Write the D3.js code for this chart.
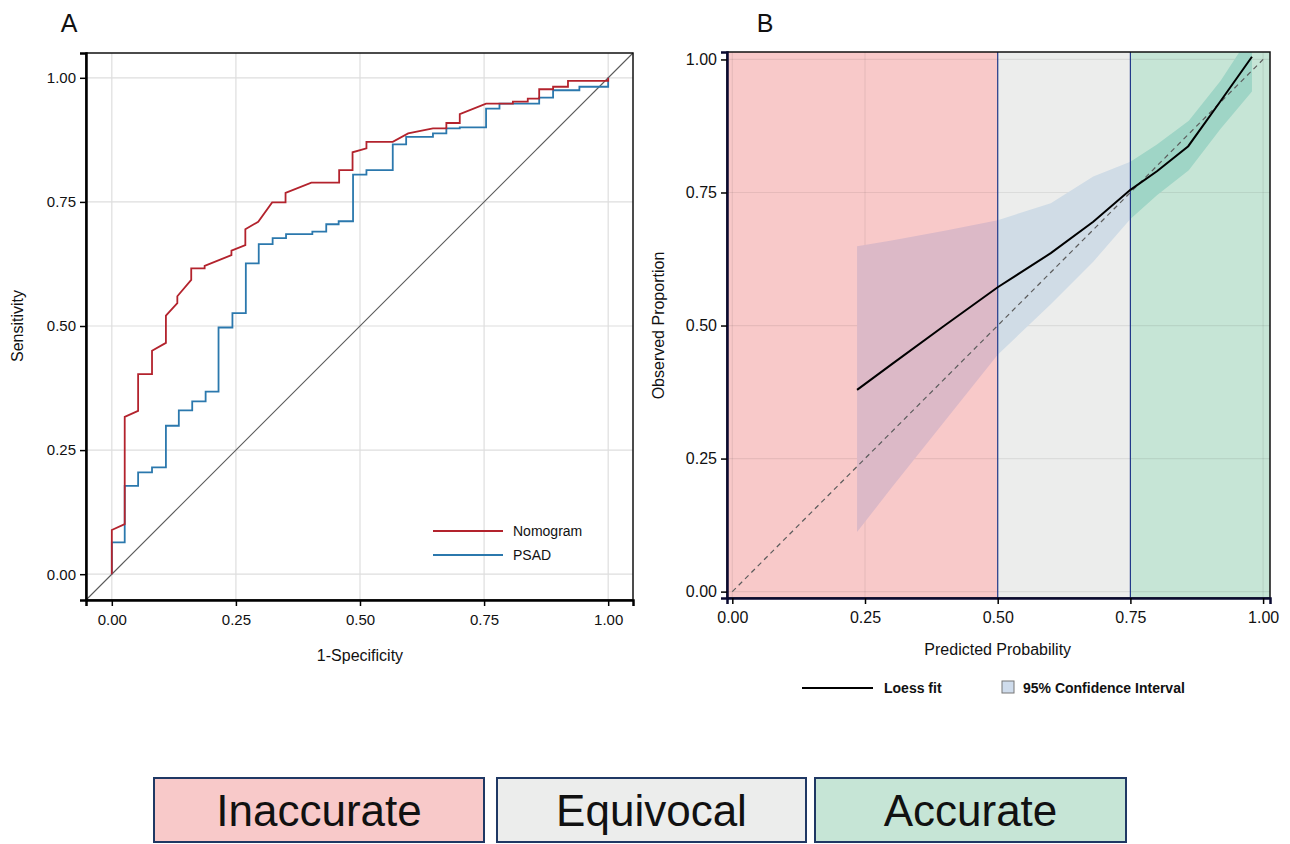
<!DOCTYPE html>
<html>
<head>
<meta charset="utf-8">
<script src="https://cdn.jsdelivr.net/npm/d3@7/dist/d3.min.js"></script>
<style>
  html, body { margin: 0; padding: 0; background: #fff; }
  svg { display: block; }
  text { font-family: "Liberation Sans", Arial, sans-serif; fill: #111; }
</style>
</head>
<body>
<svg id="chart" width="1290" height="844"></svg>
<script>
// ---------------- DATA ----------------
const tickValues = [0, 0.25, 0.5, 0.75, 1];
const tickLabels = ["0.00", "0.25", "0.50", "0.75", "1.00"];

// Panel A: ROC curves (1-Specificity, Sensitivity)
const nomogramFPR = [0, 0, 0.026, 0.026, 0.053, 0.053, 0.081, 0.081, 0.109, 0.109, 0.132, 0.132, 0.160, 0.160, 0.187, 0.187, 0.241, 0.241, 0.269, 0.269, 0.295, 0.323, 0.350, 0.350, 0.402, 0.458, 0.458, 0.485, 0.485, 0.513, 0.513, 0.566, 0.597, 0.647, 0.674, 0.674, 0.701, 0.701, 0.754, 0.808, 0.808, 0.838, 0.838, 0.861, 0.861, 0.889, 0.889, 0.919, 0.919, 1.0, 1.0];
const nomogramTPR = [0, 0.089, 0.101, 0.317, 0.329, 0.403, 0.403, 0.450, 0.466, 0.521, 0.546, 0.560, 0.593, 0.616, 0.616, 0.621, 0.643, 0.652, 0.663, 0.695, 0.710, 0.749, 0.749, 0.768, 0.789, 0.789, 0.814, 0.814, 0.850, 0.858, 0.871, 0.871, 0.888, 0.898, 0.898, 0.909, 0.909, 0.927, 0.948, 0.948, 0.952, 0.952, 0.958, 0.958, 0.977, 0.977, 0.982, 0.982, 0.994, 0.994, 1.0];

const psadFPR = [0, 0, 0.026, 0.026, 0.053, 0.053, 0.081, 0.081, 0.109, 0.109, 0.135, 0.135, 0.162, 0.162, 0.189, 0.189, 0.215, 0.215, 0.243, 0.243, 0.270, 0.270, 0.296, 0.296, 0.324, 0.324, 0.351, 0.351, 0.404, 0.404, 0.432, 0.432, 0.457, 0.457, 0.486, 0.486, 0.513, 0.513, 0.566, 0.566, 0.593, 0.593, 0.647, 0.647, 0.674, 0.674, 0.701, 0.701, 0.754, 0.754, 0.781, 0.781, 0.861, 0.861, 0.889, 0.889, 0.942, 0.942, 1.0, 1.0];
const psadTPR = [0, 0.064, 0.064, 0.178, 0.178, 0.205, 0.205, 0.215, 0.215, 0.299, 0.299, 0.330, 0.330, 0.348, 0.348, 0.368, 0.368, 0.497, 0.497, 0.526, 0.526, 0.626, 0.626, 0.665, 0.665, 0.677, 0.677, 0.685, 0.685, 0.690, 0.690, 0.705, 0.705, 0.711, 0.711, 0.805, 0.805, 0.814, 0.814, 0.866, 0.866, 0.881, 0.881, 0.888, 0.888, 0.898, 0.898, 0.900, 0.900, 0.938, 0.938, 0.948, 0.948, 0.960, 0.960, 0.975, 0.975, 0.982, 0.982, 1.0];

const rocSeries = ["Nomogram", "PSAD"];

// Panel B: calibration curve
const loessX = [0.235, 0.30, 0.40, 0.50, 0.60, 0.68, 0.75, 0.80, 0.859, 0.92, 0.979];
const loessY = [0.379, 0.427, 0.500, 0.572, 0.636, 0.695, 0.755, 0.790, 0.837, 0.922, 1.005];
const ciX    = [0.235, 0.30, 0.40, 0.50, 0.60, 0.68, 0.75, 0.80, 0.86, 0.92, 0.979];
const ciLow  = [0.112, 0.195, 0.320, 0.445, 0.540, 0.620, 0.700, 0.745, 0.792, 0.870, 0.940];
const ciHigh = [0.649, 0.660, 0.678, 0.698, 0.730, 0.780, 0.808, 0.840, 0.885, 0.960, 1.05];

const zoneNames = ["Inaccurate", "Equivocal", "Accurate"];
const zoneBreaks = [0.5, 0.75];

// ---------------- STYLE ----------------
const svg = d3.select("#chart");
const colNomogram = "#b3232d";
const colPSAD = "#2b78ad";
const zoneFill = ["#f8c9c9", "#ecedec", "#c6e5d6"];
const ribbonFill = ["#dcb9c7", "#d0dce6", "#9fd5c6"];
const navy = "#22398a";

// ================= PANEL A =================
const xA = d3.scaleLinear().domain([-0.052, 1.05]).range([86, 633]);
const yA = d3.scaleLinear().domain([-0.052, 1.05]).range([600, 53]);
const gA = svg.append("g");

// grid
gA.selectAll(".gvx").data(tickValues).join("line")
  .attr("x1", d => xA(d)).attr("x2", d => xA(d))
  .attr("y1", yA.range()[1]).attr("y2", yA.range()[0])
  .attr("stroke", "#dedede").attr("stroke-width", 1.2);
gA.selectAll(".gvy").data(tickValues).join("line")
  .attr("y1", d => yA(d)).attr("y2", d => yA(d))
  .attr("x1", xA.range()[0]).attr("x2", xA.range()[1])
  .attr("stroke", "#dedede").attr("stroke-width", 1.2);

// reference diagonal
const diag = xA.domain();
gA.append("line")
  .attr("x1", xA(diag[0])).attr("y1", yA(diag[0]))
  .attr("x2", xA(diag[1])).attr("y2", yA(diag[1]))
  .attr("stroke", "#5a5a5a").attr("stroke-width", 1.1);

// ROC lines
const lineA = d3.line().x(d => xA(d[0])).y(d => yA(d[1]));
const psadPts = psadFPR.map((x, i) => [x, psadTPR[i]]);
const nomoPts = nomogramFPR.map((x, i) => [x, nomogramTPR[i]]);
gA.append("path").datum(psadPts).attr("d", lineA)
  .attr("fill", "none").attr("stroke", colPSAD).attr("stroke-width", 1.8);
gA.append("path").datum(nomoPts).attr("d", lineA)
  .attr("fill", "none").attr("stroke", colNomogram).attr("stroke-width", 1.8);

// frame
gA.append("rect")
  .attr("x", xA.range()[0]).attr("y", yA.range()[1])
  .attr("width", xA.range()[1] - xA.range()[0])
  .attr("height", yA.range()[0] - yA.range()[1])
  .attr("fill", "none").attr("stroke", "#111").attr("stroke-width", 1.5);

// axes
const axA_x = d3.axisBottom(xA).tickValues(tickValues).tickFormat((d, i) => tickLabels[i]).tickSizeOuter(0).tickSize(6).tickPadding(8);
const axA_y = d3.axisLeft(yA).tickValues(tickValues).tickFormat((d, i) => tickLabels[i]).tickSizeOuter(0).tickSize(6).tickPadding(4);
const gAx = gA.append("g").attr("transform", `translate(0,${yA.range()[0]})`).call(axA_x);
const gAy = gA.append("g").attr("transform", `translate(${xA.range()[0]},0)`).call(axA_y);
[gAx, gAy].forEach(g => {
  g.select(".domain").attr("stroke", "#000").attr("stroke-width", 2.5);
  g.selectAll(".tick line").attr("stroke", "#000").attr("stroke-width", 1.5);
  g.selectAll(".tick text").attr("font-size", 15).attr("font-family", "Liberation Sans, Arial, sans-serif").attr("fill", "#111");
});

gA.append("text").attr("x", (xA(0) + xA(1)) / 2).attr("y", 661)
  .attr("text-anchor", "middle").attr("font-size", 16).text("1-Specificity");
gA.append("text").attr("transform", `translate(23,${(yA(0) + yA(1)) / 2}) rotate(-90)`)
  .attr("text-anchor", "middle").attr("font-size", 16).text("Sensitivity");

// legend A
const legA = gA.append("g");
[colNomogram, colPSAD].forEach((c, i) => {
  const y = 531 + i * 24;
  legA.append("line").attr("x1", 433).attr("x2", 503).attr("y1", y).attr("y2", y)
    .attr("stroke", c).attr("stroke-width", 1.8);
  legA.append("text").attr("x", 513).attr("y", y + 5).attr("font-size", 14).text(rocSeries[i]);
});

svg.append("text").attr("x", 69).attr("y", 32).attr("text-anchor", "middle")
  .attr("font-size", 25).text("A");

// ================= PANEL B =================
const xB = d3.scaleLinear().domain([-0.01, 1.013]).range([727, 1270]);
const yB = d3.scaleLinear().domain([-0.012, 1.014]).range([598, 52]);
const gB = svg.append("g");

const zoneEdges = [xB.domain()[0], ...zoneBreaks, xB.domain()[1]];
const zones = zoneNames.map((n, i) => ({ name: n, x0: zoneEdges[i], x1: zoneEdges[i + 1] }));

gB.selectAll(".zone").data(zones).join("rect")
  .attr("x", d => xB(d.x0)).attr("width", d => xB(d.x1) - xB(d.x0))
  .attr("y", yB.range()[1]).attr("height", yB.range()[0] - yB.range()[1])
  .attr("fill", (d, i) => zoneFill[i]);

// grid
gB.selectAll(".gbx").data(tickValues).join("line")
  .attr("x1", d => xB(d)).attr("x2", d => xB(d))
  .attr("y1", yB.range()[1]).attr("y2", yB.range()[0])
  .attr("stroke", "rgba(0,0,0,0.07)").attr("stroke-width", 1.2);
gB.selectAll(".gby").data(tickValues).join("line")
  .attr("y1", d => yB(d)).attr("y2", d => yB(d))
  .attr("x1", xB.range()[0]).attr("x2", xB.range()[1])
  .attr("stroke", "rgba(0,0,0,0.07)").attr("stroke-width", 1.2);

// clip paths per zone
const defs = svg.append("defs");
zones.forEach((z, i) => {
  defs.append("clipPath").attr("id", "zclip" + i).append("rect")
    .attr("x", xB(z.x0)).attr("width", xB(z.x1) - xB(z.x0))
    .attr("y", yB.range()[1]).attr("height", yB.range()[0] - yB.range()[1]);
});
defs.append("clipPath").attr("id", "bclip").append("rect")
  .attr("x", xB.range()[0]).attr("width", xB.range()[1] - xB.range()[0])
  .attr("y", yB.range()[1]).attr("height", yB.range()[0] - yB.range()[1]);

const ciPts = ciX.map((x, i) => ({ x, lo: ciLow[i], hi: ciHigh[i] }));
const area = d3.area().x(d => xB(d.x)).y0(d => yB(d.lo)).y1(d => yB(d.hi));
zones.forEach((z, i) => {
  gB.append("path").datum(ciPts).attr("d", area)
    .attr("fill", ribbonFill[i]).attr("clip-path", `url(#zclip${i})`);
});

// zone divider lines
gB.selectAll(".div").data(zoneBreaks).join("line")
  .attr("x1", d => xB(d)).attr("x2", d => xB(d))
  .attr("y1", yB.range()[1]).attr("y2", yB.range()[0])
  .attr("stroke", navy).attr("stroke-width", 1.2);

// reference dashed
gB.append("line")
  .attr("x1", xB(0)).attr("y1", yB(0)).attr("x2", xB(1)).attr("y2", yB(1))
  .attr("stroke", "#5c5c5c").attr("stroke-width", 1.2).attr("stroke-dasharray", "5,4");

// loess
const loessPts = loessX.map((x, i) => [x, loessY[i]]);
gB.append("path").datum(loessPts)
  .attr("d", d3.line().x(d => xB(d[0])).y(d => yB(d[1])))
  .attr("fill", "none").attr("stroke", "#000").attr("stroke-width", 2)
  .attr("clip-path", "url(#bclip)");

// frame
gB.append("rect")
  .attr("x", xB.range()[0]).attr("y", yB.range()[1])
  .attr("width", xB.range()[1] - xB.range()[0])
  .attr("height", yB.range()[0] - yB.range()[1])
  .attr("fill", "none").attr("stroke", "#111").attr("stroke-width", 1.5);

const axB_x = d3.axisBottom(xB).tickValues(tickValues).tickFormat((d, i) => tickLabels[i]).tickSizeOuter(0).tickSize(6).tickPadding(8);
const axB_y = d3.axisLeft(yB).tickValues(tickValues).tickFormat((d, i) => tickLabels[i]).tickSizeOuter(0).tickSize(6).tickPadding(4);
const gBx = gB.append("g").attr("transform", `translate(0,${yB.range()[0]})`).call(axB_x);
const gBy = gB.append("g").attr("transform", `translate(${xB.range()[0]},0)`).call(axB_y);
[gBx, gBy].forEach(g => {
  g.select(".domain").attr("stroke", "#0a0a30").attr("stroke-width", 2.5);
  g.selectAll(".tick line").attr("stroke", "#000").attr("stroke-width", 1.5);
  g.selectAll(".tick text").attr("font-size", 16).attr("font-family", "Liberation Sans, Arial, sans-serif").attr("fill", "#111");
});

gB.append("text").attr("x", (xB(0) + xB(1)) / 2).attr("y", 655)
  .attr("text-anchor", "middle").attr("font-size", 16).text("Predicted Probability");
gB.append("text").attr("transform", `translate(664,${(yB(0) + yB(1)) / 2}) rotate(-90)`)
  .attr("text-anchor", "middle").attr("font-size", 16).text("Observed Proportion");

// legend B
const legB = gB.append("g");
legB.append("line").attr("x1", 802).attr("x2", 873).attr("y1", 688).attr("y2", 688)
  .attr("stroke", "#000").attr("stroke-width", 2);
legB.append("text").attr("x", 884).attr("y", 693).attr("font-size", 14).attr("font-weight", "bold").text("Loess fit");
legB.append("rect").attr("x", 1002).attr("y", 681).attr("width", 12).attr("height", 12)
  .attr("fill", "#cfdcec").attr("stroke", "#777").attr("stroke-width", 1);
legB.append("text").attr("x", 1023).attr("y", 693).attr("font-size", 14).attr("font-weight", "bold").text("95% Confidence Interval");

svg.append("text").attr("x", 765).attr("y", 32).attr("text-anchor", "middle")
  .attr("font-size", 25).text("B");

// ================= BOTTOM LEGEND BOXES =================
const boxX0 = [154, 497, 815];
const boxX1 = [484, 806, 1126];
const gBox = svg.append("g");
zoneNames.forEach((n, i) => {
  gBox.append("rect").attr("x", boxX0[i]).attr("y", 778)
    .attr("width", boxX1[i] - boxX0[i]).attr("height", 64)
    .attr("fill", zoneFill[i]).attr("stroke", "#1f3864").attr("stroke-width", 2);
  gBox.append("text").attr("x", (boxX0[i] + boxX1[i]) / 2).attr("y", 826)
    .attr("text-anchor", "middle").attr("font-size", 44)
    .attr("font-family", "Liberation Sans Narrow, Liberation Sans, Arial, sans-serif")
    .text(n);
});
</script>
</body>
</html>
